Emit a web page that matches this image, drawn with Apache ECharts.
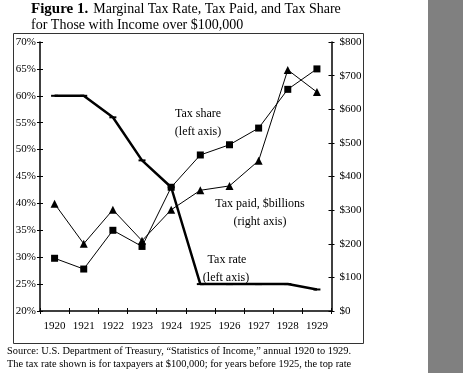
<!DOCTYPE html>
<html>
<head>
<meta charset="utf-8">
<script src="https://cdn.jsdelivr.net/npm/echarts@6/dist/echarts.min.js"></script>
<style>
html,body{margin:0;padding:0;background:#fff;}
#chart{width:463px;height:373px;}
</style>
</head>
<body>
<div id="chart"></div>
<script>
const years = ['1920','1921','1922','1923','1924','1925','1926','1927','1928','1929'];
const taxRate = [60, 60, 56, 48, 43, 25, 25, 25, 25, 24];          // left axis, %
const taxShare = [29.8, 27.8, 35, 32, 43, 49, 50.9, 54, 61.2, 65];  // squares, left axis, %
const taxPaid = [319, 200, 301, 209, 301, 359, 372, 447, 717, 651]; // triangles, right axis, $
const leftTicks = {min: 20, max: 70, interval: 5};
const rightTicks = {min: 0, max: 800, interval: 100};

const serif = '"Liberation Serif", "Times New Roman", serif';
const chart = echarts.init(document.getElementById('chart'), null, {renderer: 'canvas'});

const axisLine = {show: true, lineStyle: {color: '#000', width: 1.5}};
const tickOut = {show: true, inside: false, length: 3, lineStyle: {color: '#000', width: 1}};
const tickIn = {show: true, inside: true, length: 3, lineStyle: {color: '#000', width: 1}};
const lbl = {color: '#000', fontFamily: serif, fontSize: 11};

chart.setOption({
  backgroundColor: '#fff',
  animation: false,
  title: {
    left: 31, top: 0, padding: 0,
    text: '{b|Figure 1.} {n|Marginal Tax Rate, Tax Paid, and Tax Share}\n{n|for Those with Income over $100,000}',
    textStyle: {
      fontWeight: 'normal',
      rich: {
        b: {fontFamily: serif, fontSize: 15, fontWeight: 'bold', color: '#000', lineHeight: 15},
        n: {fontFamily: serif, fontSize: 14, fontWeight: 'normal', color: '#000', lineHeight: 15}
      }
    }
  },
  grid: {left: 40, right: 131.5, top: 42, bottom: 62},
  xAxis: [
    {type: 'category', data: years, boundaryGap: true,
     axisLine: axisLine, axisTick: Object.assign({interval: 0}, tickOut),
     axisLabel: Object.assign({margin: 10, interval: 0}, lbl), splitLine: {show: false}},
    {type: 'category', data: years, boundaryGap: true, position: 'bottom',
     axisLine: {show: false}, axisTick: Object.assign({interval: 0}, tickIn),
     axisLabel: {show: false}, splitLine: {show: false}}
  ],
  yAxis: [
    {type: 'value', position: 'left', min: leftTicks.min, max: leftTicks.max, interval: leftTicks.interval,
     axisLine: axisLine, axisTick: tickOut, splitLine: {show: false},
     axisLabel: Object.assign({formatter: '{value}%', margin: 4}, lbl)},
    {type: 'value', position: 'right', min: rightTicks.min, max: rightTicks.max, interval: rightTicks.interval,
     axisLine: axisLine, axisTick: tickOut, splitLine: {show: false},
     axisLabel: Object.assign({formatter: '${value}', margin: 8}, lbl)},
    {type: 'value', position: 'left', min: leftTicks.min, max: leftTicks.max, interval: leftTicks.interval,
     axisLine: {show: false}, axisTick: tickIn, splitLine: {show: false}, axisLabel: {show: false}},
    {type: 'value', position: 'right', min: rightTicks.min, max: rightTicks.max, interval: rightTicks.interval,
     axisLine: {show: false}, axisTick: tickIn, splitLine: {show: false}, axisLabel: {show: false}}
  ],
  series: [
    {name: 'Tax rate', type: 'line', yAxisIndex: 0, data: taxRate,
     symbol: 'rect', symbolSize: [7, 2], showAllSymbol: true,
     lineStyle: {color: '#000', width: 2.5}, itemStyle: {color: '#000'}, z: 3},
    {name: 'Tax share', type: 'line', yAxisIndex: 0, data: taxShare,
     symbol: 'rect', symbolSize: 7, showAllSymbol: true,
     lineStyle: {color: '#000', width: 1}, itemStyle: {color: '#000'}},
    {name: 'Tax paid', type: 'line', yAxisIndex: 1, data: taxPaid,
     symbol: 'triangle', symbolSize: 8, showAllSymbol: true,
     lineStyle: {color: '#000', width: 1}, itemStyle: {color: '#000'}}
  ],
  graphic: [
    {type: 'rect', shape: {x: 428, y: 0, width: 35, height: 373}, style: {fill: '#808080'}, silent: true},
    {type: 'rect', shape: {x: 13.5, y: 33.5, width: 350, height: 310}, style: {fill: 'none', stroke: '#333', lineWidth: 1}, silent: true},
    {type: 'text', x: 198, y: 114, style: {text: 'Tax share', font: '12px ' + serif, fill: '#000', textAlign: 'center', textVerticalAlign: 'middle'}},
    {type: 'text', x: 198, y: 132, style: {text: '(left axis)', font: '12px ' + serif, fill: '#000', textAlign: 'center', textVerticalAlign: 'middle'}},
    {type: 'text', x: 260, y: 204, style: {text: 'Tax paid, $billions', font: '12px ' + serif, fill: '#000', textAlign: 'center', textVerticalAlign: 'middle'}},
    {type: 'text', x: 260, y: 222, style: {text: '(right axis)', font: '12px ' + serif, fill: '#000', textAlign: 'center', textVerticalAlign: 'middle'}},
    {type: 'text', x: 227, y: 260, style: {text: 'Tax rate', font: '12px ' + serif, fill: '#000', textAlign: 'center', textVerticalAlign: 'middle'}},
    {type: 'text', x: 226, y: 278, style: {text: '(left axis)', font: '12px ' + serif, fill: '#000', textAlign: 'center', textVerticalAlign: 'middle'}},
    {type: 'text', x: 7, y: 351, style: {text: 'Source: U.S. Department of Treasury, \u201cStatistics of Income,\u201d annual 1920 to 1929.', font: '10.4px ' + serif, fill: '#000', textVerticalAlign: 'middle'}},
    {type: 'text', x: 7, y: 364, style: {text: 'The tax rate shown is for taxpayers at $100,000; for years before 1925, the top rate', font: '10.4px ' + serif, fill: '#000', textVerticalAlign: 'middle'}}
  ]
});
</script>
</body>
</html>
